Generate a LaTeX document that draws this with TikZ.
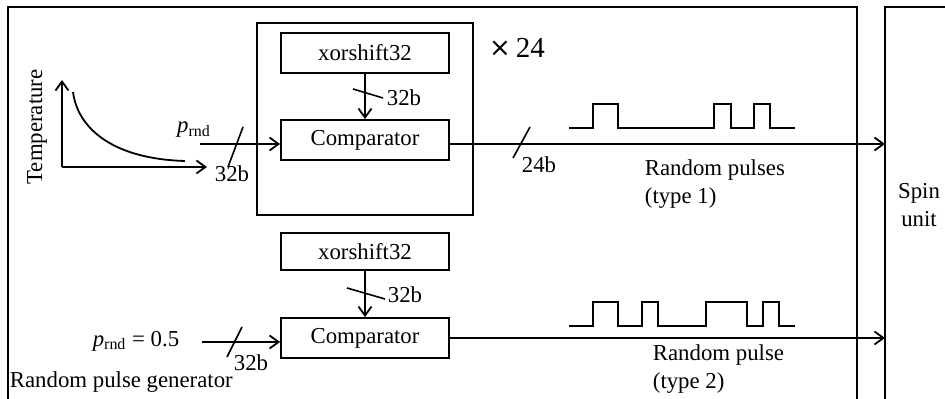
\documentclass[tikz,border=0pt]{standalone}
\usepackage{fontspec}
\setmainfont{Liberation Serif}
\newfontfamily\crossfont{DejaVu Sans}
\usetikzlibrary{arrows.meta}
\newcommand{\prnd}{\textit{p}\textsubscript{rnd}}
\begin{document}
\begin{tikzpicture}[x=0.5pt,y=-0.5pt,
  line width=0.9pt,
  every node/.style={font=\fontsize{11.4}{14}\selectfont, inner sep=0pt},
  block/.style={draw, minimum width=84pt, minimum height=20pt},
  sig/.style={-{Straight Barb[length=4.5pt,width=6.5pt]}},
  busmark/.style={line width=0.8pt},
  wave/.style={line width=0.9pt, line join=miter}]
\useasboundingbox (0,0) rectangle (945,399);

% enclosing frames (both run off the bottom edge)
\draw (8,399) -- (8,7) -- (857,7) -- (857,399);
\draw (885,399) -- (885,7) -- (945,7);
\node[align=center] (spin) at (919,205) {Spin\\unit};
\node[anchor=west] (gen) at (9,382) {Random pulse generator};

% replicated generator (type 1)
\node[draw, minimum width=108pt, minimum height=96pt] (rep) at (365,119) {};
\node[block] (xa) at (365,53) {xorshift32};
\node[block] (ca) at (365,140) {Comparator};
\node[font=\fontsize{14.5}{16}\selectfont] (times) at (517,48)
  {{\crossfont\fontsize{13}{16}\selectfont\raisebox{0.5pt}{×}}\,24};

\draw[sig] (xa.south) -- (ca.north);
\draw[busmark] (353,89) -- (383,98);
\node[anchor=west] (wa) at (386,98) {32b};

\coordinate (ina) at (200,144);
\draw[sig] (ina) -- (ca.west |- ina);
\draw[busmark] (228,167) -- (243,127);
\node (pa) at (194,130) {\prnd};
\node (ba) at (232,174) {32b};

\coordinate (outa) at (885,144);
\draw[sig] (ca.east |- outa) -- (outa);
\draw[busmark] (513,158) -- (530,127);
\node (bo) at (539,165) {24b};

% temperature schedule
\coordinate (org) at (62,167);
\draw[sig] (org) -- (62,80);
\draw[sig] (org) -- (207,167);
\draw (73,92) .. controls (78,130) and (115,159) .. (185,161);
\node[rotate=90] (temp) at (37,127) {Temperature};

% pulse train (type 1)
\draw[wave] (569,128) -- (593,128) -- (593,104) -- (618,104) -- (618,128)
  -- (714,128) -- (714,104) -- (731,104) -- (731,128)
  -- (754,128) -- (754,104) -- (770,104) -- (770,128) -- (795,128);
\node[anchor=west, align=left] (la) at (644,184) {Random pulses\\(type 1)};

% single generator (type 2)
\node[block, minimum height=18.5pt] (xb) at (365,251.5) {xorshift32};
\node[block] (cb) at (365,338) {Comparator};
\draw[sig] (xb.south) -- (cb.north);
\draw[busmark] (347,288) -- (385,299);
\node[anchor=west] (wb) at (387,295) {32b};

\coordinate (inb) at (202,342);
\draw[sig] (inb) -- (cb.west |- inb);
\draw[busmark] (227,357) -- (242,327);
\node (pb) at (136,341) {\prnd\ = 0.5};
\node (bb) at (251,363) {32b};

\coordinate (outb) at (885,338);
\draw[sig] (cb.east |- outb) -- (outb);

% pulse train (type 2)
\draw[wave] (569,326) -- (593,326) -- (593,302) -- (618,302) -- (618,326)
  -- (642,326) -- (642,302) -- (658,302) -- (658,326)
  -- (706,326) -- (706,302) -- (747,302) -- (747,326)
  -- (763,326) -- (763,302) -- (779,302) -- (779,326) -- (795,326);
\node[anchor=west, align=left] (lb) at (652,369) {Random pulse\\(type 2)};
\end{tikzpicture}
\end{document}
